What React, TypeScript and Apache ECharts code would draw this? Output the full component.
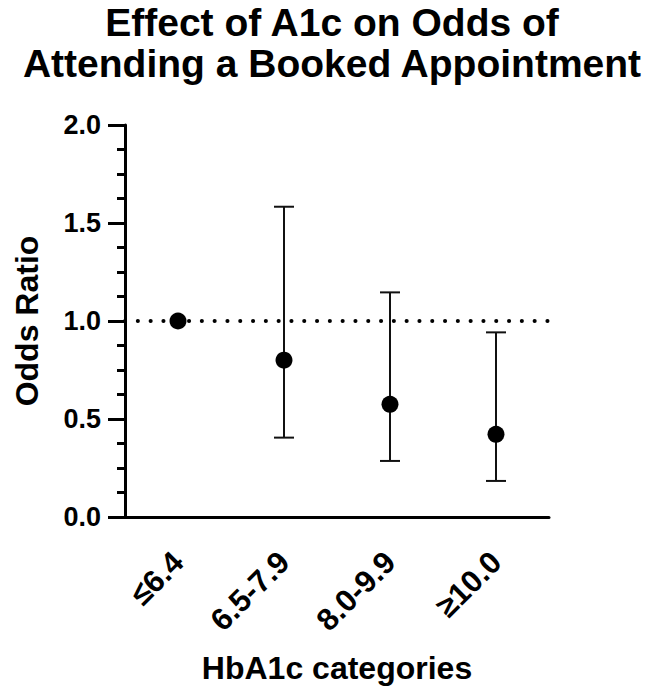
import React, { useEffect, useRef } from "react";
import * as echarts from "echarts";

const categories = ["≤6.4", "6.5-7.9", "8.0-9.9", "≥10.0"];
const oddsRatio = [1.0, 0.8, 0.575, 0.422];
const ciLower = [1.0, 0.405, 0.286, 0.184];
const ciUpper = [1.0, 1.583, 1.146, 0.942];
const yTicks = [0, 0.5, 1.0, 1.5, 2.0];
const referenceLine = 1.0;

const FONT = "Liberation Sans, Arial, sans-serif";

export default function App() {
  const ref = useRef<HTMLDivElement>(null);
  useEffect(() => {
    if (!ref.current) return;
    const chart = echarts.init(ref.current, null, { renderer: "svg" });
    const errData = categories.map((_, i) => [i, ciLower[i], ciUpper[i]]);
    chart.setOption({
      animation: false,
      backgroundColor: "#fff",
      title: {
        text: "Effect of A1c on Odds of\nAttending a Booked Appointment",
        left: "center",
        top: -3,
        textStyle: {
          fontFamily: FONT,
          fontWeight: "bold",
          fontSize: 39,
          lineHeight: 41,
          color: "#000",
        },
      },
      grid: { left: 125, top: 125, right: 115, bottom: 183 },
      xAxis: {
        type: "category",
        data: categories,
        boundaryGap: true,
        name: "HbA1c categories",
        nameLocation: "middle",
        nameGap: 135,
        nameTextStyle: { fontFamily: FONT, fontWeight: "bold", fontSize: 32, color: "#000" },
        axisLine: { lineStyle: { color: "#000", width: 3 } },
        axisTick: { alignWithLabel: true, length: 15, lineStyle: { width: 3, color: "#000" } },
        axisLabel: {
          rotate: 45,
          margin: 40,
          fontFamily: FONT,
          fontWeight: "bold",
          fontSize: 31,
          color: "#000",
        },
        splitLine: { show: false },
      },
      yAxis: {
        type: "value",
        min: yTicks[0],
        max: yTicks[yTicks.length - 1],
        interval: 0.5,
        name: "Odds Ratio",
        nameLocation: "middle",
        nameGap: 82,
        nameTextStyle: { fontFamily: FONT, fontWeight: "bold", fontSize: 32, color: "#000" },
        axisLine: { show: true, lineStyle: { color: "#000", width: 3 } },
        axisTick: { show: true, length: 17, lineStyle: { width: 3, color: "#000" } },
        minorTick: { show: true, splitNumber: 4, length: 8, lineStyle: { width: 3, color: "#000" } },
        axisLabel: {
          margin: 24,
          fontFamily: FONT,
          fontWeight: "bold",
          fontSize: 27,
          color: "#000",
          formatter: (v: number) => v.toFixed(1),
        },
        splitLine: { show: false },
      },
      series: [
        {
          type: "custom",
          data: errData,
          z: 2,
          renderItem: (params: any, api: any) => {
            const x = api.value(0);
            const lo = api.coord([x, api.value(1)]);
            const hi = api.coord([x, api.value(2)]);
            if (api.value(1) === api.value(2)) return { type: "group", children: [] };
            const w = 10;
            const style = { stroke: "#111", lineWidth: 2 };
            return {
              type: "group",
              children: [
                { type: "line", shape: { x1: lo[0], y1: lo[1], x2: hi[0], y2: hi[1] }, style },
                { type: "line", shape: { x1: hi[0] - w, y1: hi[1], x2: hi[0] + w, y2: hi[1] }, style },
                { type: "line", shape: { x1: lo[0] - w, y1: lo[1], x2: lo[0] + w, y2: lo[1] }, style },
              ],
            };
          },
        },
        {
          type: "scatter",
          data: oddsRatio,
          symbol: "circle",
          symbolSize: 17,
          z: 3,
          itemStyle: { color: "#000", opacity: 1 },
          markLine: {
            silent: true,
            symbol: ["none", "none"],
            label: { show: false },
            data: [{ yAxis: referenceLine }],
            lineStyle: {
              color: "#000",
              width: 4,
              type: [0.1, 12.7],
              cap: "round",
            },
          },
        },
      ],
    });
    return () => chart.dispose();
  }, []);
  return <div ref={ref} style={{ width: 664, height: 700, margin: -8 }} />;
}
